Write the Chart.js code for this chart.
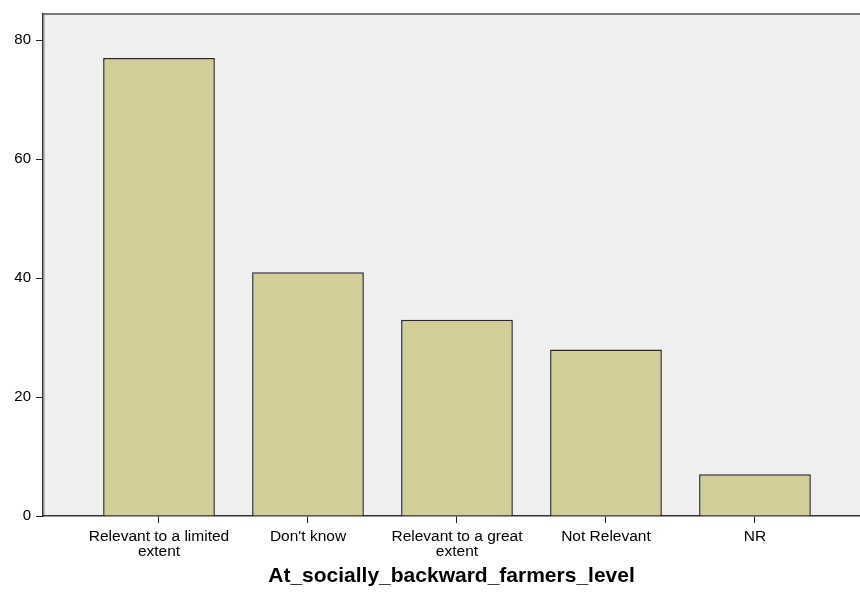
<!DOCTYPE html>
<html>
<head>
<meta charset="utf-8">
<script src="https://cdn.jsdelivr.net/npm/chart.js@4"></script>
<style>
  html, body { margin: 0; padding: 0; background: #fff; }
  #wrap { width: 860px; height: 599px; }
</style>
</head>
<body>
<div id="wrap"><canvas id="barChart" width="860" height="599"></canvas></div>
<script>
const categories = [
    ['Relevant to a limited', 'extent'],
    "Don't know",
    ['Relevant to a great', 'extent'],
    'Not Relevant',
    'NR'
];
const counts = [77, 41, 33, 28, 7];
const yTicks = [0, 20, 40, 60, 80];
const xTitle = 'At_socially_backward_farmers_level';

// plot background + top frame line, SPSS style
const plotFrame = {
    id: 'plotFrame',
    beforeDraw(chart) {
        const { ctx, chartArea: a } = chart;
        ctx.save();
        ctx.fillStyle = '#efefef';
        ctx.fillRect(a.left, a.top, a.right - a.left, a.bottom - a.top);
        ctx.strokeStyle = '#bdbdbd';
        ctx.lineWidth = 1;
        ctx.beginPath();
        ctx.moveTo(a.left + 1.5, a.top);
        ctx.lineTo(a.left + 1.5, a.bottom);
        ctx.stroke();
        ctx.strokeStyle = '#7a7a7a';
        ctx.lineWidth = 2;
        ctx.beginPath();
        ctx.moveTo(a.left, a.top);
        ctx.lineTo(a.right, a.top);
        ctx.stroke();
        ctx.restore();
    }
};

const ctx = document.getElementById('barChart').getContext('2d');
new Chart(ctx, {
    type: 'bar',
    data: {
        datasets: [{
            data: counts.map((c, i) => ({ x: i, y: c })),
            backgroundColor: '#d3ce97',
            borderColor: '#2a2a2a',
            borderWidth: 1.5,
            barPercentage: 0.75,
            categoryPercentage: 1
        }]
    },
    options: {
        responsive: false,
        animation: false,
        layout: { padding: { top: 14, right: 0, left: 0, bottom: 0 } },
        plugins: { legend: { display: false }, tooltip: { enabled: false } },
        scales: {
            x: {
                type: 'linear',
                offset: false,
                min: -0.7785,
                max: 4.705,
                afterBuildTicks: scale => { scale.ticks = categories.map((_, i) => ({ value: i })); },
                afterFit: scale => { scale.height = 83; },
                grid: { offset: false, drawOnChartArea: false, drawTicks: true, tickLength: 7, color: '#222' },
                border: { color: '#333', width: 1.5 },
                ticks: {
                    color: '#000',
                    font: { family: 'Liberation Sans', size: 15.5, lineHeight: 0.97 },
                    padding: 6,
                    maxRotation: 0,
                    autoSkip: false,
                    callback: v => categories[v]
                },
                title: {
                    display: true,
                    text: xTitle,
                    color: '#000',
                    font: { family: 'Liberation Sans', size: 21, weight: 'bold', lineHeight: 1 },
                    padding: { top: 10, bottom: 12 }
                }
            },
            y: {
                min: 0,
                max: 84.4,
                afterBuildTicks: scale => { scale.ticks = yTicks.map(v => ({ value: v })); },
                afterFit: scale => { scale.width = 43; },
                grid: { drawOnChartArea: false, drawTicks: true, tickLength: 7, color: '#222' },
                border: { color: '#333', width: 1.5 },
                ticks: {
                    color: '#000',
                    font: { family: 'Liberation Sans', size: 15 },
                    padding: 5
                }
            }
        }
    },
    plugins: [plotFrame]
});
</script>
</body>
</html>
